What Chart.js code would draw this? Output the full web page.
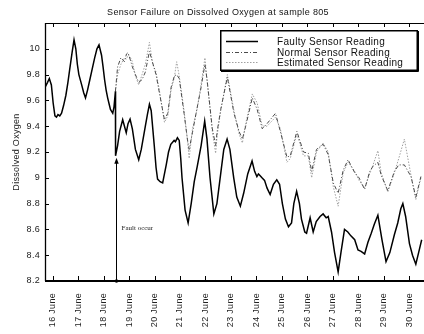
<!DOCTYPE html>
<html>
<head>
<meta charset="utf-8">
<script src="https://cdn.jsdelivr.net/npm/chart.js@4.4.1/dist/chart.umd.min.js"></script>
<style>
  html, body { margin: 0; padding: 0; background: #fff; overflow: hidden; }
  #wrap { width: 432px; height: 334px; position: relative; }
</style>
</head>
<body>
<div id="wrap"><canvas id="c" width="432" height="334"></canvas></div>
<script>
// ---- labels ----
const chartTitle = 'Sensor Failure on Dissolved Oxygen at sample 805';
const yTitle = 'Dissolved Oxygen';
const faultText = 'Fault occur';
const seriesNames = ['Faulty Sensor Reading', 'Normal Sensor Reading', 'Estimated Sensor Reading'];

// ---- axis ticks ----
const dayTicks = [16, 17, 18, 19, 20, 21, 22, 23, 24, 25, 26, 27, 28, 29, 30];
const yTicks = [8.2, 8.4, 8.6, 8.8, 9.0, 9.2, 9.4, 9.6, 9.8, 10.0];

// ---- fault instant (day of June) ----
const faultDay = 18.47;

// ---- faulty sensor (whole record) ----
const faultyDays = [
  15.70, 15.80, 15.87, 15.95, 16.02, 16.09, 16.15, 16.21, 16.28, 16.35,
  16.43, 16.52, 16.60, 16.67, 16.77, 16.84, 16.91, 16.97, 17.03, 17.14,
  17.22, 17.29, 17.37, 17.46, 17.55, 17.65, 17.74, 17.82, 17.92, 17.98,
  18.04, 18.10, 18.16, 18.22, 18.27, 18.36, 18.41, 18.465, 18.47, 18.55,
  18.63, 18.75, 18.82, 18.89, 18.96, 19.04, 19.13, 19.25, 19.38, 19.48,
  19.64, 19.72, 19.80, 19.87, 19.99, 20.06, 20.12, 20.22, 20.32, 20.46,
  20.55, 20.64, 20.77, 20.82, 20.90, 20.97, 21.03, 21.08, 21.20, 21.32,
  21.44, 21.56, 21.68, 21.83, 21.97, 22.06, 22.18, 22.33, 22.45, 22.61,
  22.72, 22.85, 22.96, 23.11, 23.23, 23.37, 23.50, 23.66, 23.83, 23.93,
  24.02, 24.08, 24.13, 24.22, 24.32, 24.42, 24.54, 24.67, 24.80, 24.91,
  25.02, 25.14, 25.26, 25.38, 25.47, 25.58, 25.69, 25.77, 25.90, 25.97,
  26.11, 26.23, 26.35, 26.50, 26.62, 26.74, 26.82, 26.95, 27.07, 27.21,
  27.32, 27.46, 27.59, 27.71, 27.86, 27.99, 28.11, 28.25, 28.38, 28.51,
  28.63, 28.77, 28.93, 29.09, 29.24, 29.42, 29.55, 29.67, 29.75, 29.86,
  30.01, 30.13, 30.26, 30.37, 30.49
];
const faultyDO = [
  9.70, 9.74, 9.77, 9.72, 9.58, 9.48, 9.47, 9.49, 9.48, 9.50,
  9.56, 9.64, 9.74, 9.84, 9.98, 10.07, 10.00, 9.88, 9.80, 9.72,
  9.66, 9.62, 9.68, 9.76, 9.84, 9.93, 10.00, 10.03, 9.95, 9.86,
  9.76, 9.68, 9.62, 9.57, 9.53, 9.50, 9.55, 9.67, 9.17, 9.25,
  9.36, 9.45, 9.40, 9.35, 9.42, 9.455, 9.38, 9.22, 9.14, 9.22,
  9.40, 9.49, 9.57, 9.52, 9.25, 9.08, 8.99, 8.97, 8.96, 9.10,
  9.20, 9.26, 9.29, 9.28, 9.31, 9.29, 9.15, 9.00, 8.75, 8.65,
  8.80, 8.97, 9.09, 9.25, 9.44, 9.30, 9.00, 8.72, 8.80, 9.05,
  9.22, 9.30, 9.22, 9.00, 8.85, 8.78, 8.88, 9.03, 9.13, 9.05,
  9.01, 9.03, 9.02, 9.00, 8.98, 8.92, 8.87, 8.95, 8.985, 8.95,
  8.80, 8.68, 8.62, 8.65, 8.80, 8.895, 8.80, 8.68, 8.58, 8.57,
  8.69, 8.58, 8.66, 8.70, 8.72, 8.69, 8.70, 8.58, 8.42, 8.27,
  8.42, 8.60, 8.58, 8.55, 8.52, 8.44, 8.43, 8.41, 8.50, 8.57,
  8.64, 8.71, 8.52, 8.35, 8.42, 8.56, 8.65, 8.76, 8.80, 8.70,
  8.49, 8.40, 8.33, 8.42, 8.52
];

// ---- healthy sensor and model estimate (from the fault onwards) ----
const refDays = [
  18.465, 18.55, 18.68, 18.82, 18.90, 18.96, 19.04, 19.13, 19.25, 19.38,
  19.51, 19.64, 19.80, 19.93, 20.06, 20.19, 20.39, 20.52, 20.65, 20.78,
  20.87, 20.97, 21.16, 21.29, 21.36, 21.49, 21.68, 21.81, 21.98, 22.07,
  22.27, 22.40, 22.46, 22.60, 22.86, 23.12, 23.32, 23.45, 23.58, 23.84,
  24.03, 24.23, 24.42, 24.75, 24.94, 25.20, 25.33, 25.59, 25.85, 26.04,
  26.17, 26.36, 26.62, 26.82, 27.02, 27.21, 27.41, 27.60, 27.86, 28.03,
  28.25, 28.45, 28.58, 28.77, 28.90, 29.16, 29.42, 29.59, 29.81, 30.07,
  30.26, 30.46
];
const normalDO = [
  9.67, 9.86, 9.93, 9.90, 9.96, 9.97, 9.92, 9.86, 9.80, 9.74,
  9.76, 9.82, 9.98, 9.89, 9.80, 9.66, 9.45, 9.50, 9.70, 9.79,
  9.80, 9.77, 9.50, 9.30, 9.22, 9.35, 9.55, 9.68, 9.88, 9.75,
  9.38, 9.25, 9.36, 9.53, 9.78, 9.50, 9.36, 9.30, 9.40, 9.62,
  9.53, 9.38, 9.42, 9.50, 9.36, 9.16, 9.17, 9.36, 9.20, 9.19,
  9.05, 9.22, 9.26, 9.18, 8.96, 8.88, 9.06, 9.14, 9.04, 9.00,
  8.91, 9.05, 9.09, 9.12, 9.02, 8.90, 9.05, 9.10, 9.10, 9.01,
  8.85, 9.01
];
const estimatedDO = [
  9.67, 9.80, 9.88, 9.93, 9.92, 9.95, 9.94, 9.90, 9.79, 9.72,
  9.80, 9.88, 10.05, 9.88, 9.82, 9.68, 9.43, 9.48, 9.68, 9.78,
  9.90, 9.79, 9.52, 9.30, 9.15, 9.38, 9.54, 9.70, 9.93, 9.74,
  9.36, 9.19, 9.33, 9.52, 9.80, 9.52, 9.34, 9.27, 9.42, 9.65,
  9.58, 9.40, 9.40, 9.47, 9.38, 9.12, 9.15, 9.34, 9.17, 9.17,
  9.00, 9.20, 9.27, 9.20, 8.93, 8.78, 9.04, 9.12, 9.05, 8.98,
  8.92, 9.03, 9.10, 9.21, 9.04, 8.89, 9.04, 9.15, 9.30, 9.02,
  8.83, 9.00
];

const FONT = '"Liberation Sans", Arial, sans-serif';
const pts = (xs, ys) => xs.map((x, i) => ({ x: x, y: ys[i] }));

const seriesStyle = [
  { color: '#000000', width: 1.5, dash: [] },
  { color: '#4a4a4a', width: 1, dash: [4, 2, 1, 2] },
  { color: '#a0a0a0', width: 1, dash: [1.5, 1.5] }
];

// spacing of all canvas text
const spacingPlugin = {
  id: 'spacing',
  beforeLayout(chart) { chart.ctx.letterSpacing = '0.3px'; },
  beforeDraw(chart) { chart.ctx.letterSpacing = '0.3px'; }
};

// frame, inward tick marks, title, legend box and fault marker
const decorPlugin = {
  id: 'decor',
  afterDraw(chart) {
    const ctx = chart.ctx;
    const a = chart.chartArea;
    const xs = chart.scales.x, ys = chart.scales.y;
    ctx.save();
    ctx.strokeStyle = '#000';
    ctx.fillStyle = '#000';

    // frame
    ctx.lineWidth = 1;
    ctx.beginPath(); ctx.moveTo(a.left, a.top + 0.5); ctx.lineTo(a.right, a.top + 0.5); ctx.stroke();
    ctx.lineWidth = 1.3;
    ctx.beginPath(); ctx.moveTo(a.left + 0.5, a.top); ctx.lineTo(a.left + 0.5, a.bottom); ctx.stroke();
    ctx.lineWidth = 2;
    ctx.beginPath(); ctx.moveTo(a.left, a.bottom); ctx.lineTo(a.right, a.bottom); ctx.stroke();
    ctx.beginPath(); ctx.moveTo(a.right - 0.5, a.top); ctx.lineTo(a.right - 0.5, a.bottom); ctx.stroke();

    // inward ticks
    ctx.lineWidth = 1;
    ctx.beginPath();
    dayTicks.forEach(d => {
      const px = Math.round(xs.getPixelForValue(d)) + 0.5;
      ctx.moveTo(px, a.bottom); ctx.lineTo(px, a.bottom - 5);
      ctx.moveTo(px, a.top); ctx.lineTo(px, a.top + 4);
    });
    yTicks.forEach(v => {
      const py = Math.round(ys.getPixelForValue(v)) + 0.5;
      ctx.moveTo(a.left, py); ctx.lineTo(a.left + 4, py);
    });
    ctx.stroke();

    // title
    ctx.letterSpacing = '0.35px';
    ctx.font = '9px ' + FONT;
    ctx.fillStyle = '#111';
    ctx.textAlign = 'center';
    ctx.textBaseline = 'middle';
    ctx.fillText(chartTitle, chart.width / 2 + 2, 13);

    // fault arrow
    const fi = faultyDays.indexOf(faultDay);
    const fx = Math.round(xs.getPixelForValue(faultDay)) + 0.5;
    const tipY = ys.getPixelForValue(faultyDO[fi]) + 2;
    ctx.strokeStyle = '#000';
    ctx.fillStyle = '#000';
    ctx.lineWidth = 1;
    ctx.beginPath(); ctx.moveTo(fx, a.bottom); ctx.lineTo(fx, tipY + 4); ctx.stroke();
    ctx.beginPath();
    ctx.moveTo(fx, tipY); ctx.lineTo(fx - 2.2, tipY + 6); ctx.lineTo(fx + 2.2, tipY + 6); ctx.closePath(); ctx.fill();
    ctx.beginPath(); ctx.arc(fx, a.bottom, 1.8, 0, Math.PI * 2); ctx.fill();
    ctx.letterSpacing = '0px';
    ctx.font = '7px "Liberation Serif", "Times New Roman", serif';
    ctx.fillStyle = '#222';
    ctx.textAlign = 'left';
    ctx.textBaseline = 'middle';
    ctx.fillText(faultText, fx + 5, a.bottom - 53);

    // legend box
    const lx = a.left + 175, ly = a.top + 7, lw = 198, lh = 41;
    ctx.fillStyle = '#fff';
    ctx.fillRect(lx, ly, lw, lh);
    ctx.strokeStyle = '#000';
    ctx.lineWidth = 1.5;
    ctx.strokeRect(lx + 0.75, ly + 0.75, lw - 1.5, lh - 1.5);
    ctx.lineWidth = 1;
    ctx.beginPath();
    ctx.moveTo(lx + 1, ly + lh + 0.5); ctx.lineTo(lx + lw + 0.5, ly + lh + 0.5); ctx.lineTo(lx + lw + 0.5, ly + 1);
    ctx.stroke();

    ctx.letterSpacing = '0.3px';
    ctx.font = '10px ' + FONT;
    ctx.textAlign = 'left';
    ctx.textBaseline = 'middle';
    const rows = [ly + 10.7, ly + 21.5, ly + 31.8];
    chart.data.datasets.forEach((ds, i) => {
      const ry = Math.round(rows[i]) + 0.5;
      ctx.strokeStyle = ds.borderColor;
      ctx.lineWidth = ds.borderWidth;
      ctx.setLineDash(ds.borderDash || []);
      ctx.beginPath(); ctx.moveTo(lx + 6, ry); ctx.lineTo(lx + 38, ry); ctx.stroke();
      ctx.setLineDash([]);
      ctx.fillStyle = '#111';
      ctx.fillText(ds.label, lx + 57, ry + 0.5);
    });
    ctx.restore();
  }
};

new Chart(document.getElementById('c'), {
  type: 'line',
  data: {
    datasets: [
      { label: seriesNames[0], data: pts(faultyDays, faultyDO) },
      { label: seriesNames[1], data: pts(refDays, normalDO) },
      { label: seriesNames[2], data: pts(refDays, estimatedDO) }
    ].map((ds, i) => Object.assign(ds, {
      borderColor: seriesStyle[i].color,
      borderWidth: seriesStyle[i].width,
      borderDash: seriesStyle[i].dash,
      pointRadius: 0,
      fill: false,
      tension: 0
    }))
  },
  options: {
    responsive: false,
    animation: false,
    devicePixelRatio: 1,
    layout: { padding: { top: 23, left: 0, right: 0, bottom: 0 } },
    plugins: { legend: { display: false }, title: { display: false }, tooltip: { enabled: false } },
    scales: {
      x: {
        type: 'linear',
        min: 15.70,
        max: 30.80,
        grid: { display: false, drawTicks: false },
        border: { display: false },
        afterBuildTicks: s => { s.ticks = dayTicks.map(v => ({ value: v })); },
        afterFit: s => { s.height = 53; },
        ticks: {
          autoSkip: false,
          minRotation: 90,
          maxRotation: 90,
          padding: 12,
          color: '#222',
          font: { family: FONT, size: 9 },
          callback: v => v + ' June'
        }
      },
      y: {
        min: 8.2,
        max: 10.2,
        grid: { display: false, drawTicks: false },
        border: { display: false },
        afterBuildTicks: s => { s.ticks = yTicks.map(v => ({ value: v })); },
        afterFit: s => { s.width = 45; },
        title: {
          display: true,
          text: yTitle,
          color: '#222',
          font: { family: FONT, size: 9 },
          padding: { top: 11, bottom: 0 }
        },
        ticks: {
          padding: 5,
          color: '#222',
          font: { family: FONT, size: 9 },
          callback: v => String(Math.round(v * 10) / 10)
        }
      }
    }
  },
  plugins: [spacingPlugin, decorPlugin]
});
</script>
</body>
</html>
